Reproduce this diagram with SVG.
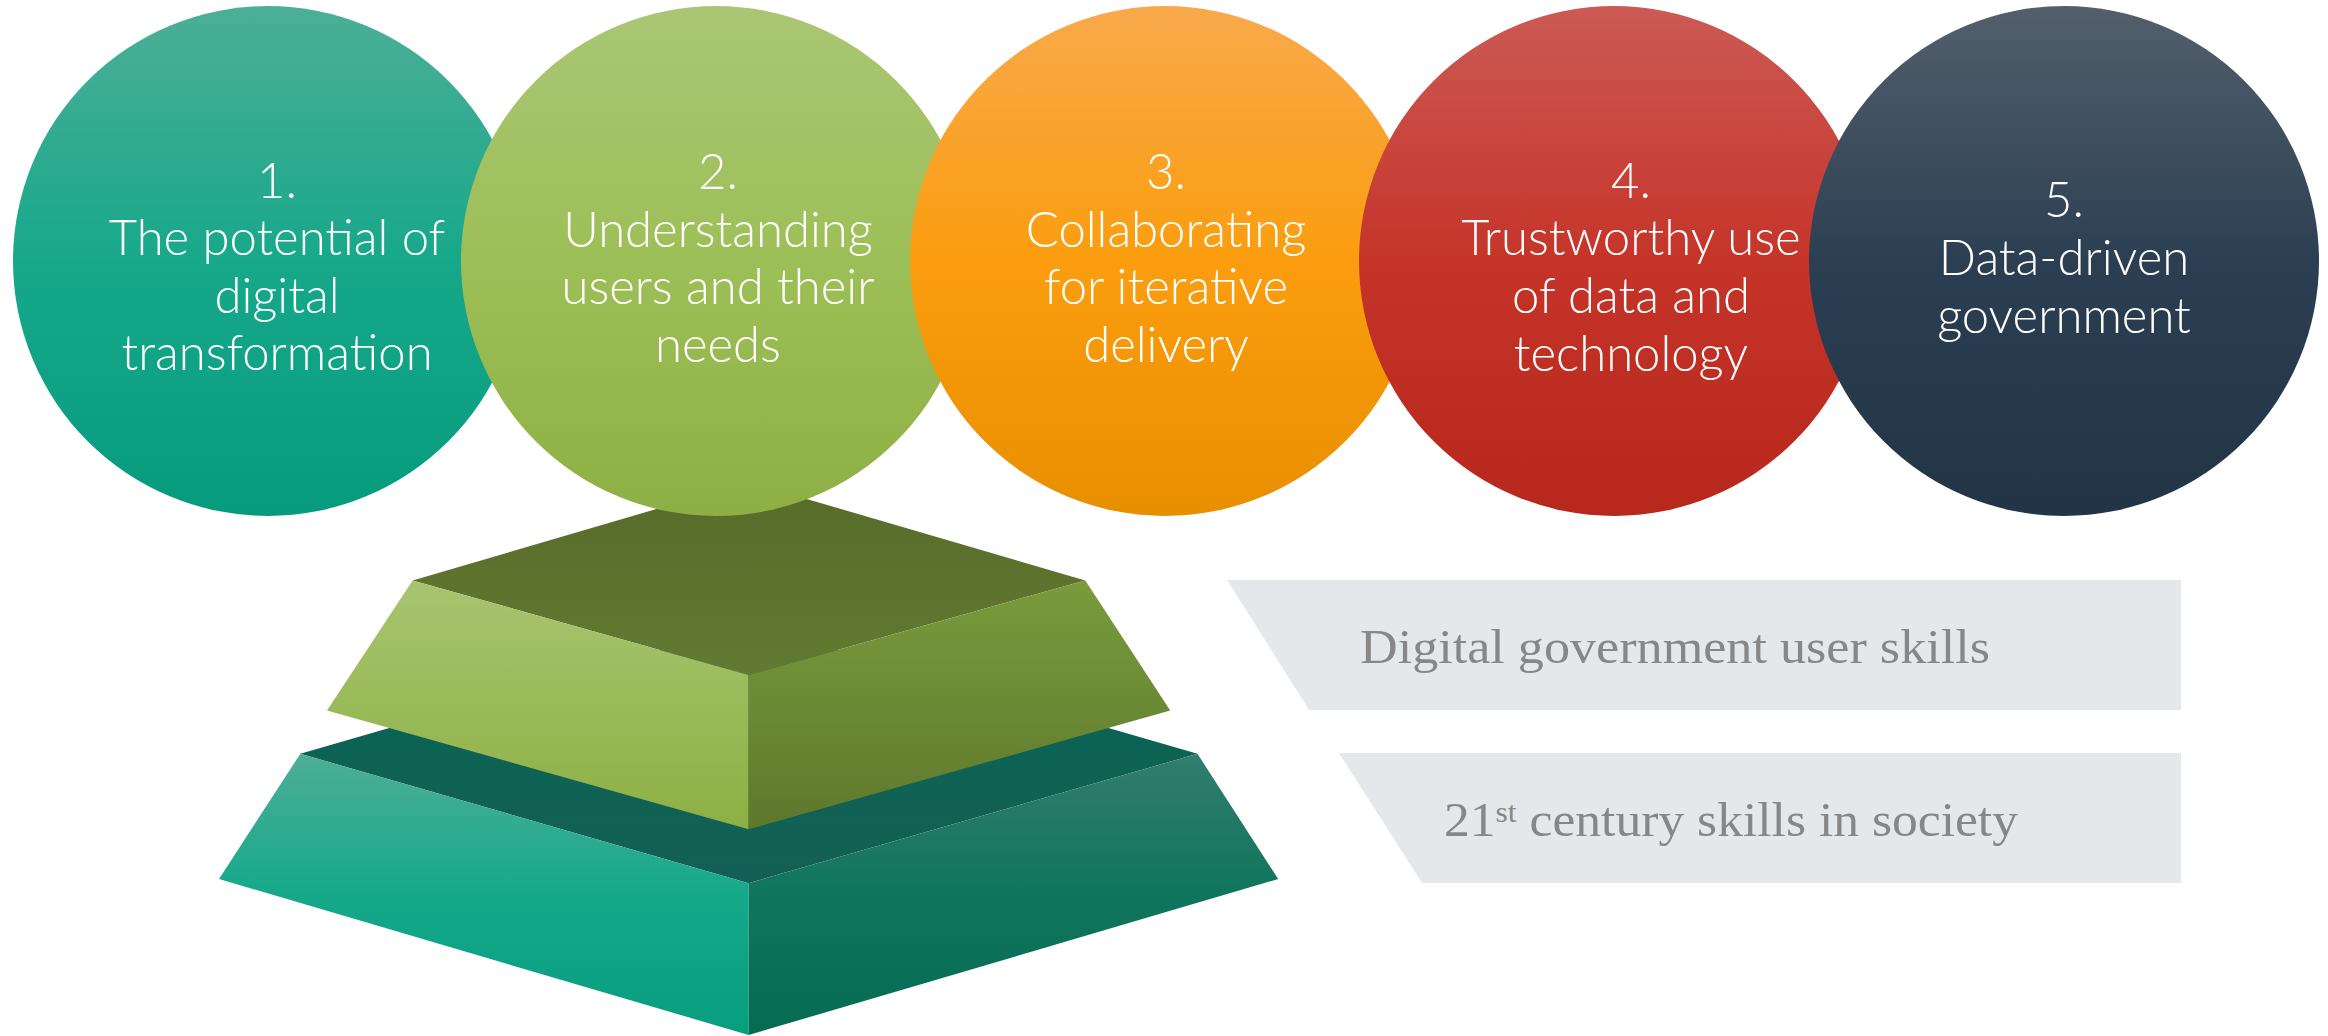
<svg xmlns="http://www.w3.org/2000/svg" width="2328" height="1036" viewBox="0 0 2328 1036">
<defs>
<linearGradient id="g1" x1="0" y1="0" x2="0" y2="1"><stop offset="0" stop-color="#4caf97"/><stop offset="0.5" stop-color="#17a88a"/><stop offset="1" stop-color="#069b7d"/></linearGradient>
<linearGradient id="g2" x1="0" y1="0" x2="0" y2="1"><stop offset="0" stop-color="#aac674"/><stop offset="0.5" stop-color="#9dbf57"/><stop offset="1" stop-color="#8daf43"/></linearGradient>
<linearGradient id="g3" x1="0" y1="0" x2="0" y2="1"><stop offset="0" stop-color="#f8a94b"/><stop offset="0.5" stop-color="#fb9d0e"/><stop offset="1" stop-color="#e88f00"/></linearGradient>
<linearGradient id="g4" x1="0" y1="0" x2="0" y2="1"><stop offset="0" stop-color="#cc5a55"/><stop offset="0.5" stop-color="#c53429"/><stop offset="1" stop-color="#b7271b"/></linearGradient>
<linearGradient id="g5" x1="0" y1="0" x2="0" y2="1"><stop offset="0" stop-color="#535f6b"/><stop offset="0.5" stop-color="#2c3f52"/><stop offset="1" stop-color="#223547"/></linearGradient>
<linearGradient id="tTop" x1="0" y1="0" x2="0" y2="1"><stop offset="0" stop-color="#586b2a"/><stop offset="1" stop-color="#627a31"/></linearGradient>
<linearGradient id="tLeft" x1="0" y1="0" x2="0" y2="1"><stop offset="0" stop-color="#a8c470"/><stop offset="1" stop-color="#8db043"/></linearGradient>
<linearGradient id="tRight" x1="0" y1="0" x2="0" y2="1"><stop offset="0" stop-color="#7a9b3d"/><stop offset="1" stop-color="#5e782c"/></linearGradient>
<linearGradient id="bTop" x1="0" y1="0" x2="0" y2="1"><stop offset="0" stop-color="#066651"/><stop offset="1" stop-color="#145f55"/></linearGradient>
<linearGradient id="bLeft" x1="0" y1="0" x2="0" y2="1"><stop offset="0" stop-color="#4eae97"/><stop offset="0.5" stop-color="#15a98a"/><stop offset="1" stop-color="#079d7f"/></linearGradient>
<linearGradient id="bRight" x1="0" y1="0" x2="0" y2="1"><stop offset="0" stop-color="#337d6d"/><stop offset="0.5" stop-color="#0f755d"/><stop offset="1" stop-color="#056c53"/></linearGradient>
</defs>
<style>
.ct{font-family:Lato,"Open Sans","Liberation Sans",sans-serif;font-weight:300;font-size:49px;fill:#ffffff;text-anchor:middle}
.bn{fill:#e5e8ea}
.bt{font-family:"Liberation Serif","DejaVu Serif",serif;font-size:49px;fill:#878787}
</style>

<g id="pyramid">
  <g id="layer-bottom">
    <polygon points="748.6,624 1197.5,753.8 748.6,883.2 300.3,753.8" fill="url(#bTop)"/>
    <polygon points="300.3,753.8 748.6,883.2 748.6,1035 219,879" fill="url(#bLeft)"/>
    <polygon points="748.6,883.2 1197.5,753.8 1278.2,879 748.6,1035" fill="url(#bRight)"/>
  </g>
  <g id="layer-top">
    <polygon points="748.6,482 1085.3,580.4 748.6,675 412.6,580.4" fill="url(#tTop)"/>
    <polygon points="412.6,580.4 748.6,675 748.6,829.3 327,710.5" fill="url(#tLeft)"/>
    <polygon points="748.6,675 1085.3,580.4 1170.2,710.5 748.6,829.3" fill="url(#tRight)"/>
  </g>
</g>

<g id="node1">
  <circle cx="268" cy="261" r="255" fill="url(#g1)"/>
  <text class="ct"><tspan x="277" y="198">1.</tspan><tspan x="277" y="255">The potential of</tspan><tspan x="277" y="312.5">digital</tspan><tspan x="277" y="370">transformation</tspan></text>
</g>
<g id="node2">
  <circle cx="716" cy="261" r="255" fill="url(#g2)"/>
  <text class="ct"><tspan x="718" y="189">2.</tspan><tspan x="718" y="246.6">Understanding</tspan><tspan x="718" y="304">users and their</tspan><tspan x="718" y="361.5">needs</tspan></text>
</g>
<g id="node3">
  <circle cx="1165" cy="261" r="255" fill="url(#g3)"/>
  <text class="ct"><tspan x="1166" y="189.3">3.</tspan><tspan x="1166" y="246.7">Collaborating</tspan><tspan x="1166" y="304">for iterative</tspan><tspan x="1166" y="361.7">delivery</tspan></text>
</g>
<g id="node4">
  <circle cx="1614" cy="261" r="255" fill="url(#g4)"/>
  <text class="ct"><tspan x="1631" y="198">4.</tspan><tspan x="1631" y="255">Trustworthy use</tspan><tspan x="1631" y="312.5">of data and</tspan><tspan x="1631" y="370.5">technology</tspan></text>
</g>
<g id="node5">
  <circle cx="2064" cy="261" r="255" fill="url(#g5)"/>
  <text class="ct"><tspan x="2064" y="217">5.</tspan><tspan x="2064" y="275">Data-driven</tspan><tspan x="2064" y="333">government</tspan></text>
</g>

<g id="banner1">
  <polygon class="bn" points="1227,580 2181,580 2181,710 1309,710"/>
  <text class="bt" x="1360" y="662.7" textLength="630" lengthAdjust="spacingAndGlyphs">Digital government user skills</text>
</g>
<g id="banner2">
  <polygon class="bn" points="1339,753 2181,753 2181,883 1422,883"/>
  <text class="bt" x="1444" y="836" textLength="574" lengthAdjust="spacingAndGlyphs">21<tspan font-size="30" dy="-14">st</tspan><tspan dy="14"> century skills in society</tspan></text>
</g>

<g id="connectors"/>
</svg>
